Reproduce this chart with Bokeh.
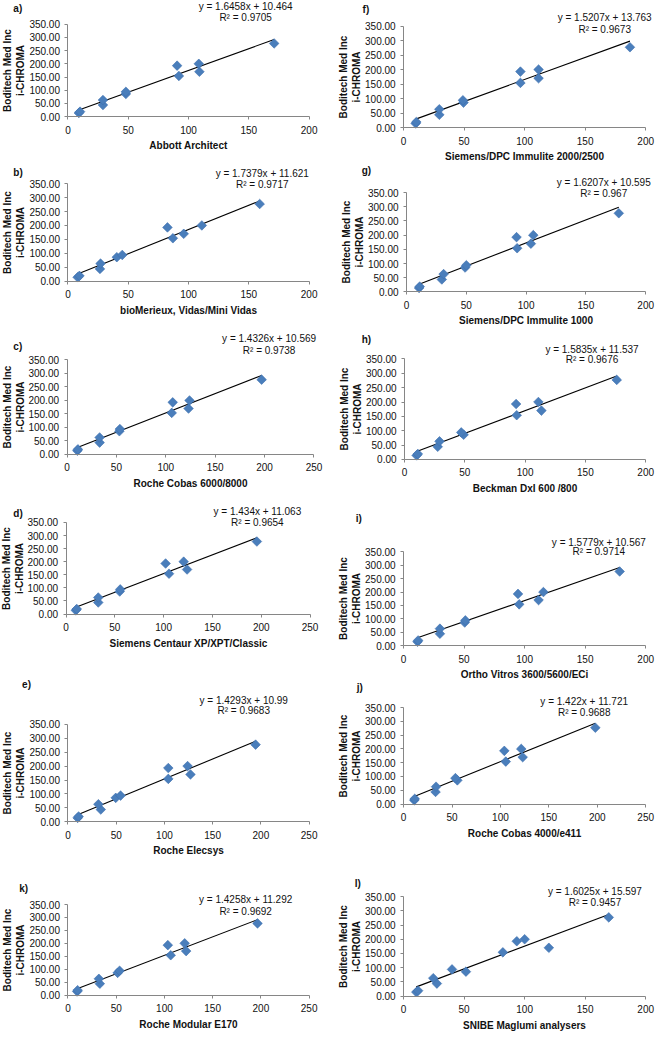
import numpy as np
from bokeh.plotting import figure
from bokeh.layouts import row, column
from bokeh.models import Label, NumeralTickFormatter, SingleIntervalTicker, Range1d
from bokeh.embed import file_html
from bokeh.resources import INLINE

# ---------------- data ----------------
# i-CHROMA (Boditech Med Inc) results, same samples in every panel
ichroma = [14, 19, 44, 63, 86, 94, 154, 193, 170, 200, 277]

x_a = [9, 10, 29, 29, 48, 48, 92, 90.5, 109, 108.5, 171]
x_b = [8, 9.5, 26.5, 27, 40.5, 45, 87, 82.5, 96, 111, 159]
x_c = [10.5, 11, 33, 33, 53, 53.5, 106, 107, 123, 124, 197]
x_d = [10, 11, 33, 33, 55, 55.5, 105.5, 102, 124, 120.5, 195.5]
x_e = [10, 11, 34, 31.5, 49.5, 54.5, 104, 104, 127, 124, 194.5]
x_k = [9.5, 10, 33, 32, 51.5, 53.5, 106.5, 103.5, 122.5, 121, 196.5]
x_f = [10, 10.5, 29.5, 29.5, 49.5, 49, 96.5, 96.5, 111.5, 111.5, 187]
x_g = [10.5, 11, 29.5, 31, 49, 50, 92.5, 92, 104, 106, 177.5]
x_h = [10, 11, 27.5, 29, 49, 47, 93, 92.5, 113.5, 111, 176]
x_i = [11.5, 12, 30, 30, 50.5, 51, 95.5, 94.5, 111.5, 115.5, 178.5]
x_j = [11, 11.5, 33, 33.5, 55.5, 53.5, 105.5, 104, 123, 121.5, 198]
x_l = [10.5, 12, 27.5, 24.5, 51.5, 40, 82, 93.5, 120, 100, 169.5]

panel_x = {"a": x_a, "b": x_b, "c": x_c, "d": x_d, "e": x_e, "k": x_k,
           "f": x_f, "g": x_g, "h": x_h, "i": x_i, "j": x_j, "l": x_l}
titles = {"a": "Abbott Architect", "b": "bioMerieux, Vidas/Mini Vidas",
          "c": "Roche Cobas 6000/8000", "d": "Siemens Centaur XP/XPT/Classic",
          "e": "Roche Elecsys", "k": "Roche Modular E170",
          "f": "Siemens/DPC Immulite 2000/2500", "g": "Siemens/DPC Immulite 1000",
          "h": "Beckman DxI 600 /800", "i": "Ortho Vitros 3600/5600/ECi",
          "j": "Roche Cobas 4000/e411", "l": "SNIBE Maglumi analysers"}
slopes = {"a": "1.6458", "b": "1.7379", "c": "1.4326", "d": "1.434", "e": "1.4293",
          "k": "1.4258", "f": "1.5207", "g": "1.6207", "h": "1.5835", "i": "1.5779",
          "j": "1.422", "l": "1.6025"}
intercepts = {"a": "10.464", "b": "11.621", "c": "10.569", "d": "11.063", "e": "10.99",
              "k": "11.292", "f": "13.763", "g": "10.595", "h": "11.537", "i": "10.567",
              "j": "11.721", "l": "15.597"}
r2 = {"a": "0.9705", "b": "0.9717", "c": "0.9738", "d": "0.9654", "e": "0.9683",
      "k": "0.9692", "f": "0.9673", "g": "0.967", "h": "0.9676", "i": "0.9714",
      "j": "0.9688", "l": "0.9457"}
x_max = {"a": 200, "b": 200, "c": 250, "d": 250, "e": 250, "k": 250,
         "f": 200, "g": 200, "h": 200, "i": 200, "j": 250, "l": 200}
y_max = 350
y_label = "Boditech Med Inc\ni-CHROMA"

# ---------------- layout (reference pixel positions, 671 x 1050) ----------------
left_ids = ["a", "b", "c", "d", "e", "k"]
right_ids = ["f", "g", "h", "i", "j", "l"]
left_bounds = [0, 162, 328, 505, 670, 880, 1050]
right_bounds = [0, 166, 338, 512, 692, 875, 1050]
# plot box: x of 0, x of max, y of 350, y of 0
box = {"a": (63, 310, 24, 118), "b": (63, 310, 186, 285), "c": (62, 315, 365, 461),
       "d": (61, 311, 530, 623), "e": (63, 310, 735, 834), "k": (63, 310, 918, 1010),
       "f": (415, 663, 26, 129), "g": (418, 663, 195, 296), "h": (416, 663, 364, 466),
       "i": (415, 663, 560, 655), "j": (415, 663, 718, 816), "l": (415, 663, 910, 1011)}
# equation centre x, line-1 y, line-2 y
eq_pos = {"a": (245, 6, 17), "b": (262, 176, 187), "c": (269, 343, 355),
          "d": (257, 519, 530), "e": (243, 711, 721), "k": (245, 913, 925),
          "f": (621, 17, 29), "g": (620, 185, 196), "h": (608, 354, 365),
          "i": (615, 550, 560), "j": (600, 712, 723), "l": (611, 905, 916)}
# panel letter left x, centre y
lab_pos = {"a": (7, 8), "b": (7, 175), "c": (7, 351), "d": (7, 521), "e": (16, 695),
           "k": (13, 902), "f": (373, 9), "g": (372, 173), "h": (372, 344),
           "i": (366, 526), "j": (367, 698), "l": (365, 897)}

PAGE_W, PAGE_H = 655, 1034
LEFT_W = 327
SX = PAGE_W / 671.0
SY = PAGE_H / 1050.0


def cx(x, left_col):
    """reference x -> x inside its figure"""
    if left_col:
        return x * SX + 6
    return x * SX - 2 - LEFT_W


FONT = "Liberation Sans"
AX = "#868686"
TXT = "#111111"
BLUE = "#4a7ebb"


def make_panel(pid, left_col, top_ref, bot_ref):
    W = LEFT_W if left_col else PAGE_W - LEFT_W
    fig_top = int(round(top_ref * SY))
    fig_bot = int(round(bot_ref * SY))
    H = fig_bot - fig_top

    def cy(y):
        return y * SY - fig_top

    bx0, bx1, by1, by0 = box[pid]
    px0, px1 = cx(bx0, left_col), cx(bx1, left_col)
    py1, py0 = cy(by1), cy(by0)
    xm = x_max[pid]
    ux = xm / (px1 - px0)
    uy = y_max / (py0 - py1)
    xr = Range1d(-px0 * ux, xm + (W - px1) * ux)
    yr = Range1d(-(H - py0) * uy, y_max + py1 * uy)

    p = figure(width=W, height=H, min_border=0, min_border_left=0, min_border_right=0,
               min_border_top=0, min_border_bottom=0,
               x_range=xr, y_range=yr, output_backend="svg", toolbar_location=None)
    p.outline_line_color = None
    p.grid.grid_line_color = None
    p.background_fill_color = "white"
    p.border_fill_color = "white"

    xs = panel_x[pid]
    m = float(slopes[pid])
    c = float(intercepts[pid])
    lx = [min(xs), max(xs)]
    ly = [m * v + c for v in lx]
    p.line(lx, ly, line_color="black", line_width=1.1)
    p.scatter(xs, ichroma, marker="square", angle=np.pi / 4, size=6.8,
              fill_color=BLUE, line_color="#3d6fae", line_width=0.6)

    p.xaxis.ticker = SingleIntervalTicker(interval=50)
    p.yaxis.ticker = SingleIntervalTicker(interval=50)
    p.yaxis.formatter = NumeralTickFormatter(format="0.00")
    p.xaxis.bounds = (0, xm)
    p.yaxis.bounds = (0, y_max)
    p.xaxis.fixed_location = 0
    p.yaxis.fixed_location = 0
    for ax in (p.xaxis, p.yaxis):
        ax.axis_line_color = AX
        ax.major_tick_line_color = AX
        ax.minor_tick_line_color = None
        ax.major_tick_in = 0
        ax.major_tick_out = 3
        ax.major_label_text_font = FONT
        ax.major_label_text_font_size = "10px"
        ax.major_label_text_color = TXT
        ax.axis_label_text_font = FONT
        ax.axis_label_text_font_size = "10px"
        ax.axis_label_text_font_style = "bold"
        ax.axis_label_text_color = TXT
    p.xaxis.axis_label = titles[pid]
    p.xaxis.major_label_standoff = 5
    p.xaxis.axis_label_standoff = 3
    p.yaxis.axis_label = y_label
    p.yaxis.major_label_standoff = 4
    p.yaxis.axis_label_standoff = 0

    ex, e1, e2 = eq_pos[pid]
    sx = cx(ex, left_col)
    p.add_layout(Label(x=sx, y=H - cy(e1), x_units="screen", y_units="screen",
                       text="y = %sx + %s" % (slopes[pid], intercepts[pid]),
                       text_align="center", text_baseline="middle",
                       text_font=FONT, text_font_size="10px", text_color=TXT))
    p.add_layout(Label(x=sx, y=H - cy(e2), x_units="screen", y_units="screen",
                       text="R\u00b2 = %s" % r2[pid],
                       text_align="center", text_baseline="middle",
                       text_font=FONT, text_font_size="10px", text_color=TXT))
    lxr, lyr = lab_pos[pid]
    p.add_layout(Label(x=cx(lxr, left_col), y=H - cy(lyr),
                       x_units="screen", y_units="screen",
                       text=pid + ")", text_align="left", text_baseline="middle",
                       text_font=FONT, text_font_size="10px", text_font_style="bold",
                       text_color=TXT))
    return p


left = [make_panel(pid, True, left_bounds[n], left_bounds[n + 1])
        for n, pid in enumerate(left_ids)]
right = [make_panel(pid, False, right_bounds[n], right_bounds[n + 1])
         for n, pid in enumerate(right_ids)]
layout = row(column(*left, spacing=0), column(*right, spacing=0), spacing=0)

open("out.html", "w").write(file_html(layout, INLINE))
